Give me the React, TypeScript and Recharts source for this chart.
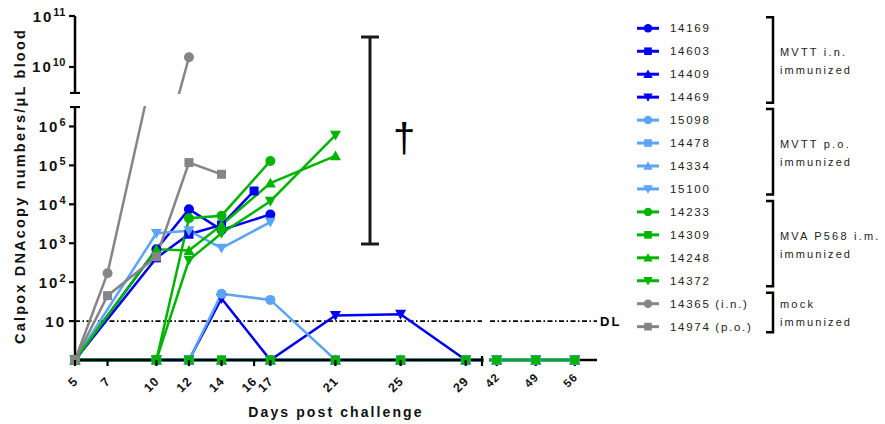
import React from 'react';
import { LineChart, Line, XAxis, YAxis, ReferenceLine } from 'recharts';

// sampling days; null = no sample that day
const DAYS = [5, 7, 10, 12, 14, 16, 17, 21, 25, 29, 42, 49, 56];
const _ = null;

// Calpox DNA copies / µL blood (1 = below detection, drawn on the baseline)
const v14169 = [1, _, 700, 7500, 2200, _, 5500, _, _, _, _, _, _];
const v14603 = [1, _, 420, 1700, 2950, 22000, _, _, _, _, _, _, _];
const v14409 = [1, _, 1, 1, 1, _, 1, 1, 1, 1, 1, 1, 1];
const v14469 = [1, _, 1, 1, 38, _, 1, 14, 15, 1, 1, 1, 1];
const v15098 = [1, _, 1, 1, 50, _, 35, 1, 1, 1, 1, 1, 1];
const v14478 = [1, _, 1, 1, 1, _, 1, 1, 1, 1, 1, 1, 1];
const v14334 = [1, _, 1, 1, 1, _, 1, 1, 1, 1, 1, 1, 1];
const v15100 = [1, _, 1800, 2100, 750, _, 3500, _, _, _, _, _, _];
const v14233 = [1, _, 1, 4400, 5100, _, 130000, _, _, _, _, _, _];
const v14309 = [1, _, 1, 1, 1, _, 1, 1, 1, 1, 1, 1, 1];
const v14248 = [1, _, 700, 650, 2950, _, 35000, 175000, _, _, _, _, _];
const v14372 = [1, _, 1, 370, 1800, _, 12000, 600000, _, _, _, _, _];
const v14365 = [1, 170, 7e7, 1.55e10, _, _, _, _, _, _, _, _, _];
const v14974 = [1, 45, 450, 118000, 59000, _, _, _, _, _, _, _, _];

const LOWER_TICKS = [10, 100, 1e3, 1e4, 1e5, 1e6];
const UPPER_TICKS = [1e10, 1e11];
const LEFT_DAY_TICKS = [5, 7, 10, 12, 14, 16, 17, 21, 25, 29];
const RIGHT_DAY_TICKS = [42, 49, 56];
const DETECTION_LIMIT = 10;

// broken axes: two value ranges, two day ranges
const LOWER: [number, number] = [1, Math.pow(10, 6.5)];
const UPPER: [number, number] = [Math.pow(10, 9.49), 1e11];
const LEFT_DAYS: [number, number] = [5, 30];
const RIGHT_DAYS: [number, number] = [40.8, 60];

const BLUE = '#0000f0';
const SKY = '#5ca4f5';
const GREEN = '#00b400';
const GREY = '#858585';

type Shape = 'circle' | 'square' | 'up' | 'down';
type Series = { id: string; label: string; color: string; shape: Shape; values: (number | null)[] };

const SERIES: Series[] = [
  { id: '14169', label: '14169', color: BLUE, shape: 'circle', values: v14169 },
  { id: '14603', label: '14603', color: BLUE, shape: 'square', values: v14603 },
  { id: '14409', label: '14409', color: BLUE, shape: 'up', values: v14409 },
  { id: '14469', label: '14469', color: BLUE, shape: 'down', values: v14469 },
  { id: '15098', label: '15098', color: SKY, shape: 'circle', values: v15098 },
  { id: '14478', label: '14478', color: SKY, shape: 'square', values: v14478 },
  { id: '14334', label: '14334', color: SKY, shape: 'up', values: v14334 },
  { id: '15100', label: '15100', color: SKY, shape: 'down', values: v15100 },
  { id: '14233', label: '14233', color: GREEN, shape: 'circle', values: v14233 },
  { id: '14309', label: '14309', color: GREEN, shape: 'square', values: v14309 },
  { id: '14248', label: '14248', color: GREEN, shape: 'up', values: v14248 },
  { id: '14372', label: '14372', color: GREEN, shape: 'down', values: v14372 },
  { id: '14365', label: '14365 (i.n.)', color: GREY, shape: 'circle', values: v14365 },
  { id: '14974', label: '14974 (p.o.)', color: GREY, shape: 'square', values: v14974 },
];

const GROUPS = [
  { first: 0, last: 3, lines: ['MVTT i.n.', 'immunized'] },
  { first: 4, last: 7, lines: ['MVTT p.o.', 'immunized'] },
  { first: 8, last: 11, lines: ['MVA P568 i.m.', 'immunized'] },
  { first: 12, last: 13, lines: ['mock', 'immunized'] },
];

const rows = DAYS.map((day, i) => {
  const row: Record<string, number | null> = { day };
  SERIES.forEach((s) => {
    row['m' + s.id] = s.values[i];
  });
  return row;
});

const FONT = '"Liberation Sans", Arial, sans-serif';
const AXIS = { stroke: '#000', strokeWidth: 2.5 };
const DL_DASH = '5 2.5 1.5 2.5';

const Marker = ({ shape, cx, cy, color, k = 1 }: { shape: Shape; cx: number; cy: number; color: string; k?: number }) => {
  if (shape === 'circle') return <circle cx={cx} cy={cy} r={5 * k} fill={color} />;
  if (shape === 'square') return <rect x={cx - 4.5 * k} y={cy - 4.5 * k} width={9 * k} height={9 * k} fill={color} />;
  const h = 5.5 * k;
  const pts =
    shape === 'up'
      ? `${cx},${cy - h} ${cx - h},${cy + h * 0.8} ${cx + h},${cy + h * 0.8}`
      : `${cx},${cy + h} ${cx - h},${cy - h * 0.8} ${cx + h},${cy - h * 0.8}`;
  return <polygon points={pts} fill={color} />;
};

const markerDot = (shape: Shape, color: string) => (props: any) => {
  const { cx, cy, index } = props;
  if (!Number.isFinite(cx) || !Number.isFinite(cy) || props.value == null) return <g key={`d-${index}`} />;
  return (
    <g key={`d-${index}`}>
      <Marker shape={shape} cx={cx} cy={cy} color={color} />
    </g>
  );
};

const sameValue = (a: number, b: number) => Math.abs(Math.log10(a) - Math.log10(b)) < 1e-6;

// y ticks: "10" with a raised exponent; segment ends get a cap instead
const valueTick = (caps: number[]) => (props: any) => {
  const { x, y, payload } = props;
  const v = payload.value as number;
  if (caps.some((c) => sameValue(c, v))) {
    return <line x1={x - 5} x2={x + 5} y1={y} y2={y} stroke="#000" strokeWidth={2.2} />;
  }
  const e = Math.round(Math.log10(v));
  return (
    <g>
      <line x1={x - 6} x2={x} y1={y} y2={y} stroke="#000" strokeWidth={2.2} />
      <text x={x - 9} y={y + 5.5} textAnchor="end" fontFamily={FONT} fontWeight={700} fontSize={15} letterSpacing={2} fill="#111">
        10
        {e > 1 && (
          <tspan dy={-6} fontSize={11} letterSpacing={0.5}>
            {e}
          </tspan>
        )}
      </text>
    </g>
  );
};

// day ticks: slanted labels; the break end of the axis gets a cap
const dayTick = (capDay: number | null, fontSize: number, dy: number) => (props: any) => {
  const { x, y, payload } = props;
  if (capDay !== null && payload.value === capDay) {
    return <line x1={x} x2={x} y1={y - 4} y2={y + 6} stroke="#000" strokeWidth={2.2} />;
  }
  return (
    <g>
      <line x1={x} x2={x} y1={y} y2={y + 6} stroke="#000" strokeWidth={2.2} />
      <text
        textAnchor="end"
        dominantBaseline="central"
        transform={`translate(${x + 1},${y + dy}) rotate(-45)`}
        fontFamily={FONT}
        fontWeight={700}
        fontSize={fontSize}
        letterSpacing={1}
        fill="#111"
      >
        {payload.value}
      </text>
    </g>
  );
};

const seriesLines = () =>
  SERIES.map((s) => (
    <Line
      key={s.id}
      dataKey={'m' + s.id}
      type="linear"
      stroke={s.color}
      strokeWidth={2.5}
      dot={markerDot(s.shape, s.color)}
      activeDot={false}
      connectNulls
      isAnimationActive={false}
    />
  ));

const clipBox = (left: number, top: number, width: number, height: number): React.CSSProperties => ({
  position: 'absolute',
  left,
  top,
  width,
  height,
  overflow: 'hidden',
});

// late-days segment: chart spans x 440..885, plot area 490..597
const LATE_MARGIN = { top: 107, right: 288, bottom: 24, left: 50 };

export default function App() {
  const rowY = (i: number) => 28.3 + i * 22.95;
  return (
    <div style={{ position: 'absolute', left: 0, top: 0, width: 885, height: 424, background: '#fff', fontFamily: FONT }}>
      {/* each axis segment clips its own lines; the wrapping divs do the clipping */}
      <style>{`.brk [clip-path] { clip-path: none !important; }`}</style>

      {/* upper value segment */}
      <div className="brk" style={clipBox(0, 0, 484, 94)}>
        <LineChart width={484} height={94} data={rows} margin={{ top: 16, right: 2, bottom: 1, left: 0 }}>
          <XAxis hide type="number" dataKey="day" domain={LEFT_DAYS} allowDataOverflow />
          <YAxis
            type="number"
            scale="log"
            domain={UPPER}
            allowDataOverflow
            ticks={[UPPER[0], ...UPPER_TICKS]}
            interval={0}
            width={75}
            tickSize={0}
            tickMargin={0}
            tickLine={false}
            axisLine={AXIS}
            tick={valueTick([UPPER[0]])}
          />
          {seriesLines()}
        </LineChart>
      </div>

      {/* lower value segment, early days */}
      <div className="brk" style={clipBox(0, 106, 484, 318)}>
        <div style={{ position: 'absolute', left: 0, top: -106 }}>
          <LineChart width={484} height={424} data={rows} margin={{ top: 107, right: 2, bottom: 24, left: 0 }}>
            <XAxis
              type="number"
              dataKey="day"
              domain={LEFT_DAYS}
              allowDataOverflow
              ticks={[...LEFT_DAY_TICKS, LEFT_DAYS[1]]}
              interval={0}
              height={40}
              tickSize={0}
              tickMargin={0}
              tickLine={false}
              axisLine={AXIS}
              tick={dayTick(LEFT_DAYS[1], 12.5, 19)}
            />
            <YAxis
              type="number"
              scale="log"
              domain={LOWER}
              allowDataOverflow
              ticks={[...LOWER_TICKS, LOWER[1]]}
              interval={0}
              width={75}
              tickSize={0}
              tickMargin={0}
              tickLine={false}
              axisLine={AXIS}
              tick={valueTick([LOWER[1]])}
            />
            <ReferenceLine y={DETECTION_LIMIT} stroke="#000" strokeWidth={1.6} strokeDasharray={DL_DASH} />
            {seriesLines()}
          </LineChart>
        </div>
      </div>

      {/* lower value segment, late days: axis and DL first (unclipped labels) */}
      <div style={{ position: 'absolute', left: 440, top: 0 }}>
        <LineChart width={445} height={424} data={rows} margin={LATE_MARGIN}>
          <XAxis
            type="number"
            dataKey="day"
            domain={RIGHT_DAYS}
            allowDataOverflow
            ticks={RIGHT_DAY_TICKS}
            interval={0}
            height={40}
            tickSize={0}
            tickMargin={0}
            tickLine={false}
            axisLine={AXIS}
            tick={dayTick(null, 11.5, 15)}
          />
          <YAxis hide type="number" scale="log" domain={LOWER} allowDataOverflow />
          <ReferenceLine
            y={DETECTION_LIMIT}
            stroke="#000"
            strokeWidth={1.6}
            strokeDasharray={DL_DASH}
            label={{ value: 'DL', position: 'right', offset: 3, fill: '#000', fontSize: 13, fontWeight: 700, letterSpacing: 2, fontFamily: FONT }}
          />
        </LineChart>
      </div>
      {/* ...then the lines, clipped at the break */}
      <div className="brk" style={clipBox(489, 106, 396, 318)}>
        <div style={{ position: 'absolute', left: -49, top: -106 }}>
          <LineChart width={445} height={424} data={rows} margin={{ ...LATE_MARGIN, bottom: 64 }}>
            <XAxis hide type="number" dataKey="day" domain={RIGHT_DAYS} allowDataOverflow />
            <YAxis hide type="number" scale="log" domain={LOWER} allowDataOverflow />
            {seriesLines()}
          </LineChart>
        </div>
      </div>

      {/* titles, death-range bar, legend */}
      <svg width={885} height={424} style={{ position: 'absolute', left: 0, top: 0, pointerEvents: 'none' }}>
        <text
          transform="translate(20,186) rotate(-90)"
          textAnchor="middle"
          dominantBaseline="central"
          fontFamily={FONT}
          fontWeight={700}
          fontSize={14.5}
          letterSpacing={2.2}
          fill="#111"
        >
          Calpox DNAcopy numbers/μL blood
        </text>
        <text x={336} y={412} textAnchor="middle" dominantBaseline="central" fontFamily={FONT} fontWeight={700} fontSize={14} letterSpacing={2.1} fill="#111">
          Days post challenge
        </text>

        <g stroke="#1a1a1a" strokeWidth={3}>
          <line x1={370} x2={370} y1={37} y2={244} />
          <line x1={361} x2={379} y1={37} y2={37} />
          <line x1={361} x2={379} y1={244} y2={244} />
        </g>
        <text x={404} y={152} textAnchor="middle" fontFamily={FONT} fontSize={40} fill="#000">
          †
        </text>

        {SERIES.map((s, i) => {
          const y = rowY(i);
          return (
            <g key={s.id}>
              <line x1={637} x2={659} y1={y} y2={y} stroke={s.color} strokeWidth={3} />
              <Marker shape={s.shape} cx={648} cy={y} color={s.color} k={0.85} />
              <text x={670} y={y} dominantBaseline="central" fontFamily={FONT} fontSize={11.5} letterSpacing={1.7} fill="#222">
                {s.label}
              </text>
            </g>
          );
        })}

        {GROUPS.map((g) => {
          const top = rowY(g.first) - 11;
          const bottom = rowY(g.last) + 5.5;
          const mid = (top + bottom) / 2;
          return (
            <g key={g.lines[0]}>
              <path d={`M766,${top} H773 V${bottom} H766`} fill="none" stroke="#000" strokeWidth={2.5} />
              <text x={780} y={mid - 8} dominantBaseline="central" fontFamily={FONT} fontSize={11} letterSpacing={2.2} fill="#222">
                {g.lines[0]}
              </text>
              <text x={780} y={mid + 10} dominantBaseline="central" fontFamily={FONT} fontSize={11} letterSpacing={2.1} fill="#222">
                {g.lines[1]}
              </text>
            </g>
          );
        })}
      </svg>
    </div>
  );
}
